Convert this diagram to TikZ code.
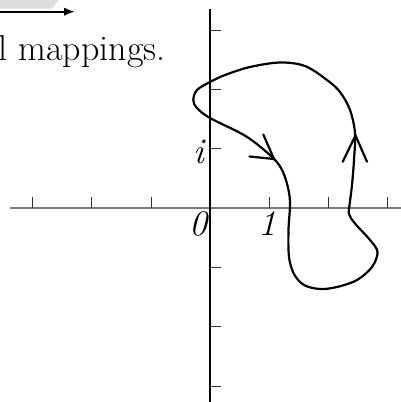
\documentclass[tikz,border=0pt]{standalone}
\usetikzlibrary{arrows.meta}
\definecolor{axisgray}{HTML}{7A7A7A}
\definecolor{bandgray}{HTML}{DCDCDC}
\begin{document}
\begin{tikzpicture}[x=1pt,y=-1pt,
  haxis/.style={draw=axisgray,line width=1.7pt},
  vaxis/.style={draw=black,line width=1.3pt},
  tickmark/.style={draw=black!80,line width=1pt},
  curve/.style={draw=black,line width=2.2pt,line join=round},
  arrowv/.style={draw=black,line width=2.2pt,line cap=round,line join=miter},
  lbl/.style={font=\fontsize{36}{40}\selectfont\itshape,inner sep=0pt}]
\useasboundingbox (0,0) rectangle (401,402);
% top-left fragment
\fill[bandgray] (0,0) -- (58.5,0) -- (52,8.5) -- (0,8.5) -- cycle;
\coordinate (ta) at (0,11.7);
\coordinate (tb) at (75,11.7);
\draw[line width=2.2pt,-{Latex[length=11pt,width=8.5pt]}] (ta) -- (tb);
\node[anchor=base west,inner sep=0pt,font=\fontsize{36}{42}\selectfont] (cap) at (-1.5,60) {l mappings.};
% axes
\coordinate (hl) at (10,208);
\coordinate (hr) at (401,208);
\coordinate (vt) at (210,8.5);
\coordinate (vb) at (210,402);
\draw[haxis] (hl) -- (hr);
\foreach \x in {32.5,91.8,151.1,269.3,328.6,387.9}
  \draw[tickmark] (\x,208) -- (\x,197);
\draw[vaxis] (vt) -- (vb);
\foreach \y in {30,89.3,148.6,267.4,326.7,386}
  \draw[tickmark] (210,\y) -- (221,\y);
\node[lbl] (zero) at (198.5,223.5) {0};
\node[lbl] (one) at (267.5,223.5) {1};
\node[lbl] (imag) at (199,151.5) {i};
% curve
\draw[curve] plot[smooth cycle,tension=0.55] coordinates {
 (273.3,158.3) (283,172) (288.5,190) (290,205) (288.5,230) (289,257)
 (294,274) (304,285) (320,289) (337,287) (357,280) (372,267) (377.5,252)
 (370,240) (355,223.5) (349,214) (349.8,203) (352,185) (354,160) (355,133)
 (350,110) (340,92) (327,80) (305,66) (280,62.5) (250,67) (225,75)
 (210,82) (197,90) (193.3,100) (197,108) (210,118) (246.7,136.7)};
% arrowheads
\coordinate (a1) at (274,159);
\draw[arrowv] (263.3,134.5) -- (a1) -- (249.5,156.5);
\coordinate (a2) at (355.5,135.5);
\draw[arrowv] (342.7,161.7) -- (a2) -- (367,161.7);
\end{tikzpicture}
\end{document}
